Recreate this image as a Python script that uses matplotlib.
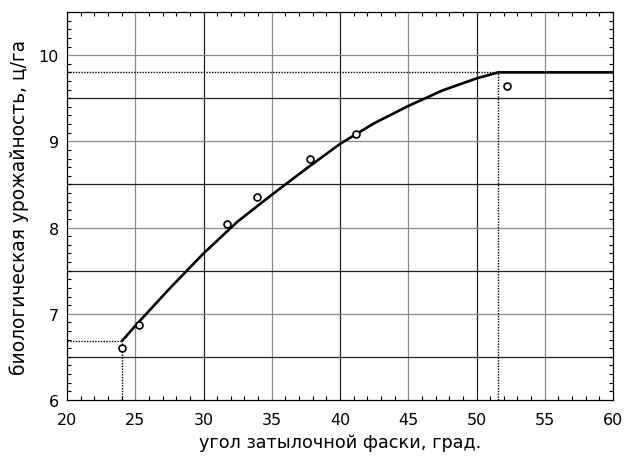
import matplotlib
matplotlib.use("Agg")
import matplotlib.pyplot as plt
from matplotlib.ticker import MultipleLocator

plt.rcParams['font.family'] = ['DejaVu Sans']

# observed points
obs_x = [24.0, 25.3, 31.7, 33.9, 37.8, 41.2, 52.2]
obs_y = [6.60, 6.87, 8.04, 8.35, 8.79, 9.08, 9.64]

# fitted curve
fit_x = [24.0, 25.0, 27.5, 30.0, 32.5, 35.0, 37.5, 40.0, 42.5, 45.0, 47.5, 50.0, 51.6, 60.0]
fit_y = [6.68, 6.86, 7.29, 7.70, 8.07, 8.38, 8.68, 8.97, 9.21, 9.41, 9.59, 9.73, 9.80, 9.80]

# marked thresholds
x_min_pt, y_min_pt = 24.0, 6.68
x_opt, y_opt = 51.6, 9.80

xlim = (20, 60)
ylim = (6, 10.5)

fig = plt.figure(figsize=(6.24, 4.60), dpi=100)
ax = fig.add_axes([0.1074, 0.1283, 0.875, 0.8434])
ax.set_xlim(*xlim)
ax.set_ylim(*ylim)

# grid: alternating dark / gray lines
for xv in range(25, 60, 5):
    c = '#222222' if xv % 10 == 0 else '#8a8a8a'
    ax.axvline(xv, color=c, lw=0.9, zorder=1)
for i in range(1, 9):
    yv = 6 + 0.5 * i
    c = '#222222' if (i % 2 == 1) else '#8a8a8a'
    ax.axhline(yv, color=c, lw=0.9, zorder=1)

# dotted guides
ax.plot([xlim[0], x_opt], [y_opt, y_opt], color='black', ls=(0, (1, 1)), lw=1.0, zorder=2)
ax.plot([x_opt, x_opt], [ylim[0], y_opt], color='black', ls=(0, (1, 1)), lw=1.0, zorder=2)
ax.plot([xlim[0], x_min_pt], [y_min_pt, y_min_pt], color='black', ls=(0, (1, 1)), lw=1.0, zorder=2)
ax.plot([x_min_pt, x_min_pt], [ylim[0], y_min_pt], color='black', ls=(0, (1, 1)), lw=1.0, zorder=2)

ax.plot(fit_x, fit_y, color='black', lw=1.9, zorder=3, solid_capstyle='butt',
        solid_joinstyle='round')
ax.plot(obs_x, obs_y, 'o', ms=5, mfc='white', mec='black', mew=1.2, zorder=4, ls='none')

ax.xaxis.set_major_locator(MultipleLocator(5))
ax.xaxis.set_minor_locator(MultipleLocator(1))
ax.yaxis.set_major_locator(MultipleLocator(1))
ax.yaxis.set_minor_locator(MultipleLocator(0.1))
ax.tick_params(which='both', direction='in', top=True, right=True, labelsize=11.5)
ax.tick_params(axis='x', which='major', pad=8.5)
ax.tick_params(axis='y', which='major', pad=6)
ax.tick_params(which='major', length=0)
ax.tick_params(which='minor', length=3, width=0.8)
for s in ax.spines.values():
    s.set_linewidth(0.9)

ax.set_xlabel('угол затылочной фаски, град.', fontsize=12.7)
ax.set_ylabel('биологическая урожайность, ц/га', fontsize=13.4)
ax.xaxis.set_label_coords(0.5, -0.085)
ax.yaxis.set_label_coords(-0.0705, 0.5)

fig.savefig('out.png', dpi=100)
